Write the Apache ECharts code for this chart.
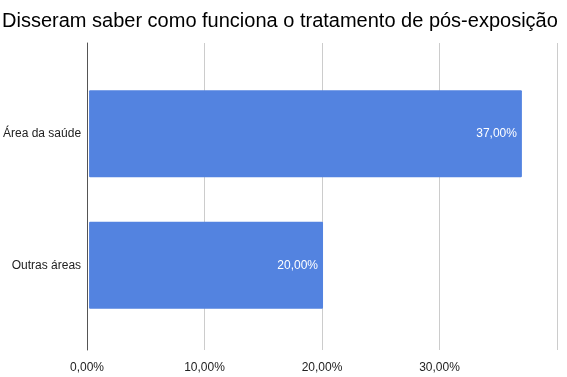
<!DOCTYPE html>
<html>
<head>
<meta charset="utf-8">
<script src="https://cdn.jsdelivr.net/npm/echarts@6/dist/echarts.min.js"></script>
<style>
  html, body { margin: 0; padding: 0; background: #fff; }
  #chart { width: 567px; height: 377px; }
</style>
</head>
<body>
<div id="chart"></div>
<script>
var titleText = 'Disseram saber como funciona o tratamento de pós-exposição';
var categories = ['Área da saúde', 'Outras áreas'];
var values = [37, 20];
var axisMax = 40;
var axisStep = 10;

function pct(v) {
  return v.toFixed(2).replace('.', ',') + '%';
}

var myChart = echarts.init(document.getElementById('chart'));
myChart.setOption({
  animation: false,
  textStyle: { fontFamily: 'Liberation Sans, Arial, sans-serif' },
  title: {
    text: titleText,
    left: -3,
    top: 6,
    textStyle: { color: '#000', fontSize: 20, fontWeight: 'normal', fontFamily: 'Liberation Sans, Arial, sans-serif' }
  },
  grid: [
    { left: 87, right: 10, top: 43, bottom: 27 },
    { left: 87, right: 10, top: 68, bottom: 46 }
  ],
  xAxis: [
    {
      gridIndex: 0,
      type: 'value',
      min: 0,
      max: axisMax,
      interval: axisStep,
      axisLine: { show: false },
      axisTick: { show: false },
      splitLine: { show: true, lineStyle: { color: '#cccccc', width: 1 } },
      axisLabel: {
        show: true,
        showMaxLabel: false,
        color: '#222',
        fontSize: 12,
        margin: 12,
        formatter: function (v) { return pct(v); }
      }
    },
    {
      gridIndex: 1,
      type: 'value',
      min: 0,
      max: axisMax,
      interval: axisStep,
      show: false
    }
  ],
  yAxis: [
    {
      gridIndex: 0,
      type: 'category',
      data: [''],
      axisLine: { show: true, lineStyle: { color: '#555', width: 1 } },
      axisTick: { show: false },
      axisLabel: { show: false }
    },
    {
      gridIndex: 1,
      type: 'category',
      inverse: true,
      data: categories,
      axisLine: { show: false },
      axisTick: { show: false },
      axisLabel: { color: '#222', fontSize: 12, margin: 8 }
    }
  ],
  series: [{
    type: 'bar',
    xAxisIndex: 1,
    yAxisIndex: 1,
    data: values,
    barWidth: 87,
    itemStyle: { color: '#5383e0', borderRadius: 1 },
    label: {
      show: true,
      position: 'insideRight',
      distance: 5,
      color: '#fff',
      fontSize: 12,
      formatter: function (p) { return pct(p.value); }
    }
  }]
});
</script>
</body>
</html>
